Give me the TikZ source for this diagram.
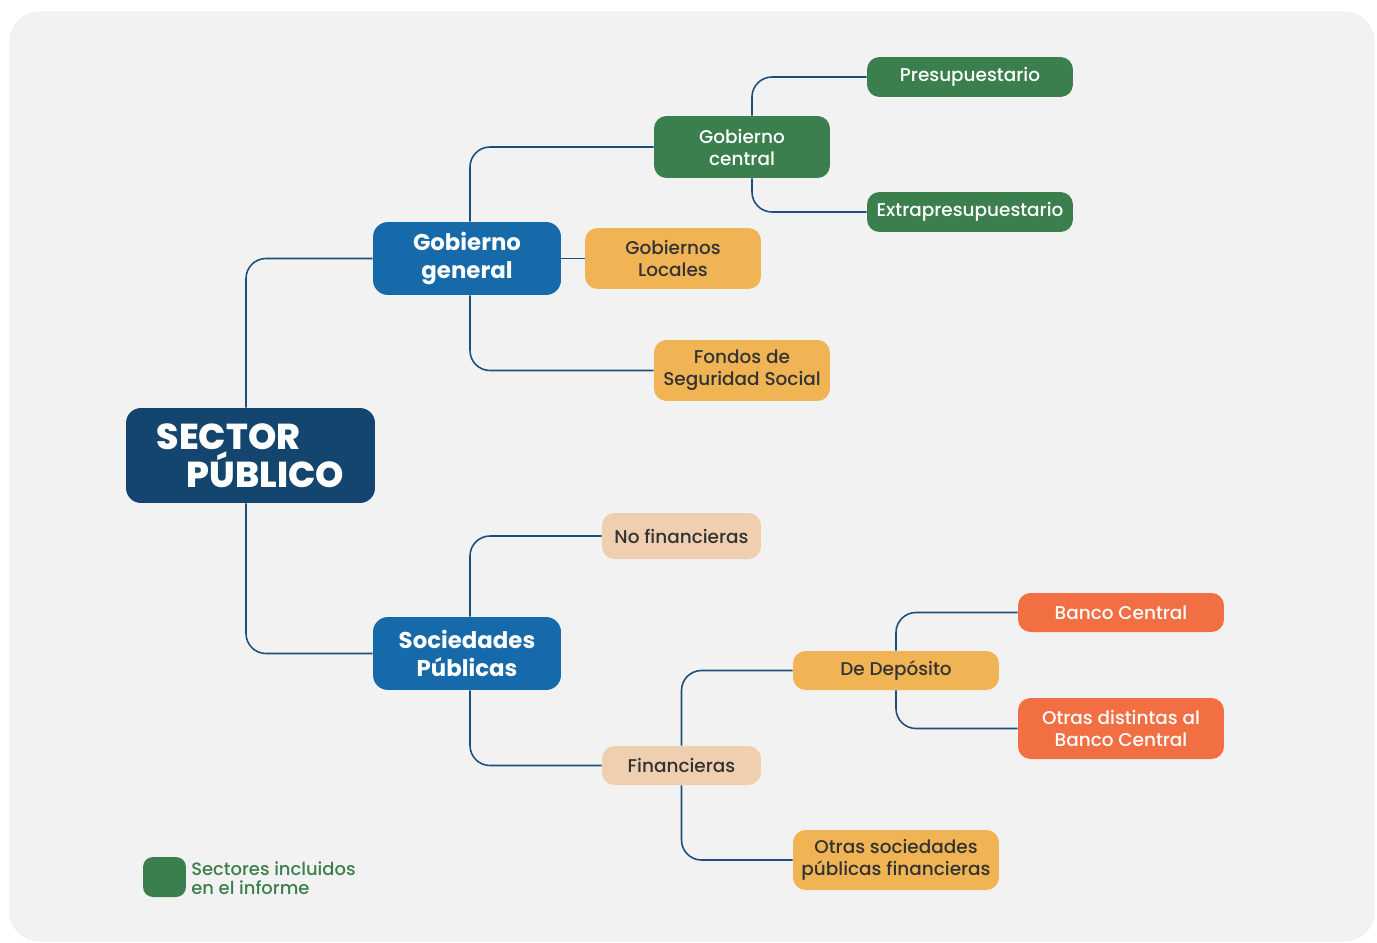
\documentclass[tikz,border=0pt]{standalone}
\usepackage{fontspec}
\setmainfont{Poppins}
\newfontfamily\mediumfont{Poppins Medium}
\newfontfamily\blackfont{Poppins ExtraBold}
\usetikzlibrary{positioning}
\definecolor{panel}{RGB}{242,242,242}
\definecolor{navy}{RGB}{19,69,111}
\definecolor{midblue}{RGB}{22,106,169}
\definecolor{leafgreen}{RGB}{60,127,78}
\definecolor{amber}{RGB}{240,180,84}
\definecolor{peach}{RGB}{239,207,176}
\definecolor{coral}{RGB}{242,110,67}
\definecolor{linkblue}{RGB}{30,78,122}
\definecolor{ink}{RGB}{51,51,51}
\tikzset{
	box/.style={rectangle,rounded corners=0.25cm,align=center,inner sep=0pt,font=\fontsize{10.5}{12.5}\selectfont\mediumfont},
	rootbox/.style={box,fill=navy,text=white,rounded corners=0.3cm,minimum width=4.98cm,minimum height=1.90cm,align=left,font=\fontsize{20.5}{20}\selectfont\blackfont},
	mainbox/.style={box,fill=midblue,text=white,rounded corners=0.3cm,minimum width=3.76cm,minimum height=1.46cm,font=\fontsize{13}{15.5}\selectfont\bfseries},
	greenbox/.style={box,fill=leafgreen,text=white},
	amberbox/.style={box,fill=amber,text=ink},
	peachbox/.style={box,fill=peach,text=ink},
	coralbox/.style={box,fill=coral,text=white},
	link/.style={color=linkblue,line width=0.9pt,rounded corners=0.4cm}
}
\begin{document}
\begin{tikzpicture}[x=0.02cm,y=-0.02cm]
	\useasboundingbox (0,0) rectangle (1377,943);
	\fill[white] (0,0) rectangle (1377,943);
	\fill[panel,rounded corners=0.6cm] (10,12) rectangle (1374,941);
	\draw[black!6,line width=0.6pt,rounded corners=0.6cm] (10,12) rectangle (1374,941);

	%%% root
	\node[rootbox] (sp) at (250.5,455.5) {SECTOR\\\hspace*{0.6cm}PÚBLICO};

	%%% Gobierno general
	\node[mainbox] (gg) at (467,258.5) {Gobierno\\general};
	\node[greenbox,minimum width=3.52cm,minimum height=1.24cm] (gc) at (742,147) {Gobierno\\central};
	\node[greenbox,minimum width=4.12cm,minimum height=0.80cm] (pre) at (970,77) {Presupuestario};
	\node[greenbox,minimum width=4.12cm,minimum height=0.80cm] (extra) at (970,212) {Extrapresupuestario};
	\node[amberbox,minimum width=3.52cm,minimum height=1.22cm] (gl) at (673,258.5) {Gobiernos\\Locales};
	\node[amberbox,minimum width=3.52cm,minimum height=1.22cm] (fss) at (742,370.5) {Fondos de\\Seguridad Social};

	%%% Sociedades publicas
	\node[mainbox] (socp) at (467,653.5) {Sociedades\\Públicas};
	\node[peachbox,minimum width=3.18cm,minimum height=0.92cm] (nof) at (681.5,536) {No financieras};
	\node[peachbox,minimum width=3.18cm,minimum height=0.78cm] (fin) at (681.5,765.5) {Financieras};
	\node[amberbox,minimum width=4.12cm,minimum height=0.78cm] (dd) at (896,670.5) {De Depósito};
	\node[coralbox,minimum width=4.12cm,minimum height=0.78cm] (bc) at (1121,612.5) {Banco Central};
	\node[coralbox,minimum width=4.12cm,minimum height=1.22cm] (obc) at (1121,728.5) {Otras distintas al\\Banco Central};
	\node[amberbox,minimum width=4.12cm,minimum height=1.20cm] (ospf) at (896,860) {Otras sociedades\\públicas financieras};

	%%% links
	\draw[link] ([xshift=-0.09cm]sp.north) |- (gg.west);
	\draw[link] ([xshift=-0.09cm]sp.south) |- (socp.west);
	\draw[link] ([xshift=0.06cm]gg.north) |- (gc.west);
	\draw[link] (gg.east) -- (gl.west);
	\draw[link] ([xshift=0.06cm]gg.south) |- (fss.west);
	\draw[link] ([xshift=0.2cm]gc.north) |- (pre.west);
	\draw[link] ([xshift=0.2cm]gc.south) |- (extra.west);
	\draw[link] ([xshift=0.06cm]socp.north) |- (nof.west);
	\draw[link] ([xshift=0.06cm]socp.south) |- (fin.west);
	\draw[link] (fin.north) |- (dd.west);
	\draw[link] (fin.south) |- (ospf.west);
	\draw[link] (dd.north) |- (bc.west);
	\draw[link] (dd.south) |- (obc.west);

	%%% legend
	\node[box,fill=leafgreen,rounded corners=0.2cm,minimum width=0.86cm,minimum height=0.80cm] (key) at (164.5,877) {};
	\node[anchor=west,align=left,inner sep=0pt,text=leafgreen,font=\fontsize{10.2}{11}\selectfont\mediumfont] (keytext) at (191,878) {Sectores incluidos\\en el informe};
\end{tikzpicture}
\end{document}
